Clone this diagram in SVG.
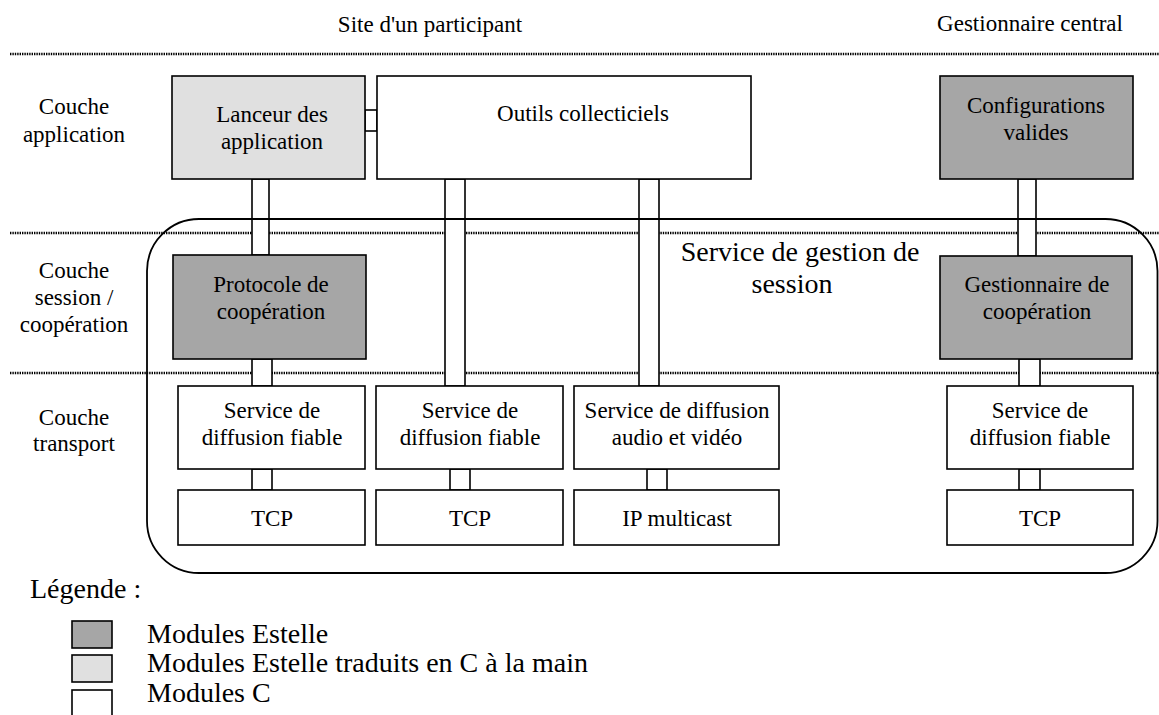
<svg xmlns="http://www.w3.org/2000/svg" width="1159" height="715" viewBox="0 0 1159 715">
<style>
text{font-family:"Liberation Serif","Times New Roman",serif;font-size:23px;fill:#000;text-anchor:middle}
.dot{stroke:#000;stroke-width:2.5;stroke-dasharray:1.4 1;fill:none}
.box{stroke:#000;stroke-width:1.6}
.c{fill:#fff}
.est{fill:#a6a6a6}
.tr{fill:#e0e0e0}
.pipe{fill:#fff;stroke:#000;stroke-width:1.6}
.big{font-size:28px}
.leg{text-anchor:start;font-size:28px}
</style>
<rect width="1159" height="715" fill="#fff"/>
<g id="titles">
<text x="430" y="32">Site d'un participant</text>
<text x="1030" y="31">Gestionnaire central</text>
</g>
<g id="layers">
<line class="dot" x1="10" y1="54" x2="1159" y2="54"/>
<line class="dot" x1="10" y1="233" x2="1159" y2="233"/>
<line class="dot" x1="10" y1="373" x2="1159" y2="373"/>
<text x="74" y="114">Couche</text>
<text x="74" y="142">application</text>
<text x="74" y="278">Couche</text>
<text x="74" y="305">session /</text>
<text x="74" y="332">coopération</text>
<text x="74" y="425">Couche</text>
<text x="74" y="451">transport</text>
</g>
<g id="connectors">
<rect class="pipe" x="365" y="110" width="12" height="21"/>
<rect class="pipe" x="252" y="179" width="17" height="76"/>
<rect class="pipe" x="252" y="359" width="20" height="27"/>
<rect class="pipe" x="445" y="179" width="20" height="207"/>
<rect class="pipe" x="639" y="179" width="20" height="207"/>
<rect class="pipe" x="252" y="469" width="20" height="21"/>
<rect class="pipe" x="450" y="469" width="20" height="21"/>
<rect class="pipe" x="647" y="469" width="20" height="21"/>
<rect class="pipe" x="1018" y="179" width="18" height="77"/>
<rect class="pipe" x="1019" y="359" width="21" height="27"/>
<rect class="pipe" x="1019" y="469" width="21" height="21"/>
</g>
<g id="session-service">
<rect x="147" y="219" width="1010.5" height="354" rx="52" ry="52" fill="none" stroke="#000" stroke-width="1.8"/>
<text class="big" x="800" y="261">Service de gestion de</text>
<text class="big" x="792" y="293">session</text>
</g>
<g id="lanceur">
<rect class="box tr" x="172" y="76" width="193" height="103"/>
<text x="272" y="122">Lanceur des</text>
<text x="272" y="149">application</text>
</g>
<g id="outils">
<rect class="box c" x="377" y="76" width="374" height="103"/>
<text x="583" y="121">Outils collecticiels</text>
</g>
<g id="configurations">
<rect class="box est" x="940" y="76" width="193" height="103"/>
<text x="1036" y="113">Configurations</text>
<text x="1036" y="140">valides</text>
</g>
<g id="protocole">
<rect class="box est" x="173" y="255" width="193" height="104"/>
<text x="271" y="292">Protocole de</text>
<text x="271" y="319">coopération</text>
</g>
<g id="gestionnaire">
<rect class="box est" x="940" y="256" width="192" height="103"/>
<text x="1037" y="292">Gestionnaire de</text>
<text x="1037" y="319">coopération</text>
</g>
<g id="sdf1">
<rect class="box c" x="178" y="386" width="187" height="83"/>
<text x="272" y="418">Service de</text>
<text x="272" y="445">diffusion fiable</text>
</g>
<g id="sdf2">
<rect class="box c" x="376" y="386" width="187" height="83"/>
<text x="470" y="418">Service de</text>
<text x="470" y="445">diffusion fiable</text>
</g>
<g id="sdav">
<rect class="box c" x="574" y="386" width="205" height="83"/>
<text x="677" y="418">Service de diffusion</text>
<text x="677" y="445">audio et vidéo</text>
</g>
<g id="sdf4">
<rect class="box c" x="947" y="386" width="186" height="83"/>
<text x="1040" y="418">Service de</text>
<text x="1040" y="445">diffusion fiable</text>
</g>
<g id="tcp1">
<rect class="box c" x="178" y="490" width="187" height="55"/>
<text x="272" y="526">TCP</text>
</g>
<g id="tcp2">
<rect class="box c" x="376" y="490" width="187" height="55"/>
<text x="470" y="526">TCP</text>
</g>
<g id="ipm">
<rect class="box c" x="574" y="490" width="205" height="55"/>
<text x="677" y="526">IP multicast</text>
</g>
<g id="tcp4">
<rect class="box c" x="947" y="490" width="186" height="55"/>
<text x="1040" y="526">TCP</text>
</g>
<g id="legend">
<text class="leg" x="30" y="598">Légende :</text>
<rect class="box est" x="72" y="621" width="40" height="27"/>
<rect class="box tr" x="72" y="655" width="40" height="27"/>
<rect class="box c" x="72" y="690" width="40" height="30"/>
<text class="leg" x="147" y="643">Modules Estelle</text>
<text class="leg" x="147" y="672">Modules Estelle traduits en C à la main</text>
<text class="leg" x="147" y="702">Modules C</text>
</g>
</svg>
